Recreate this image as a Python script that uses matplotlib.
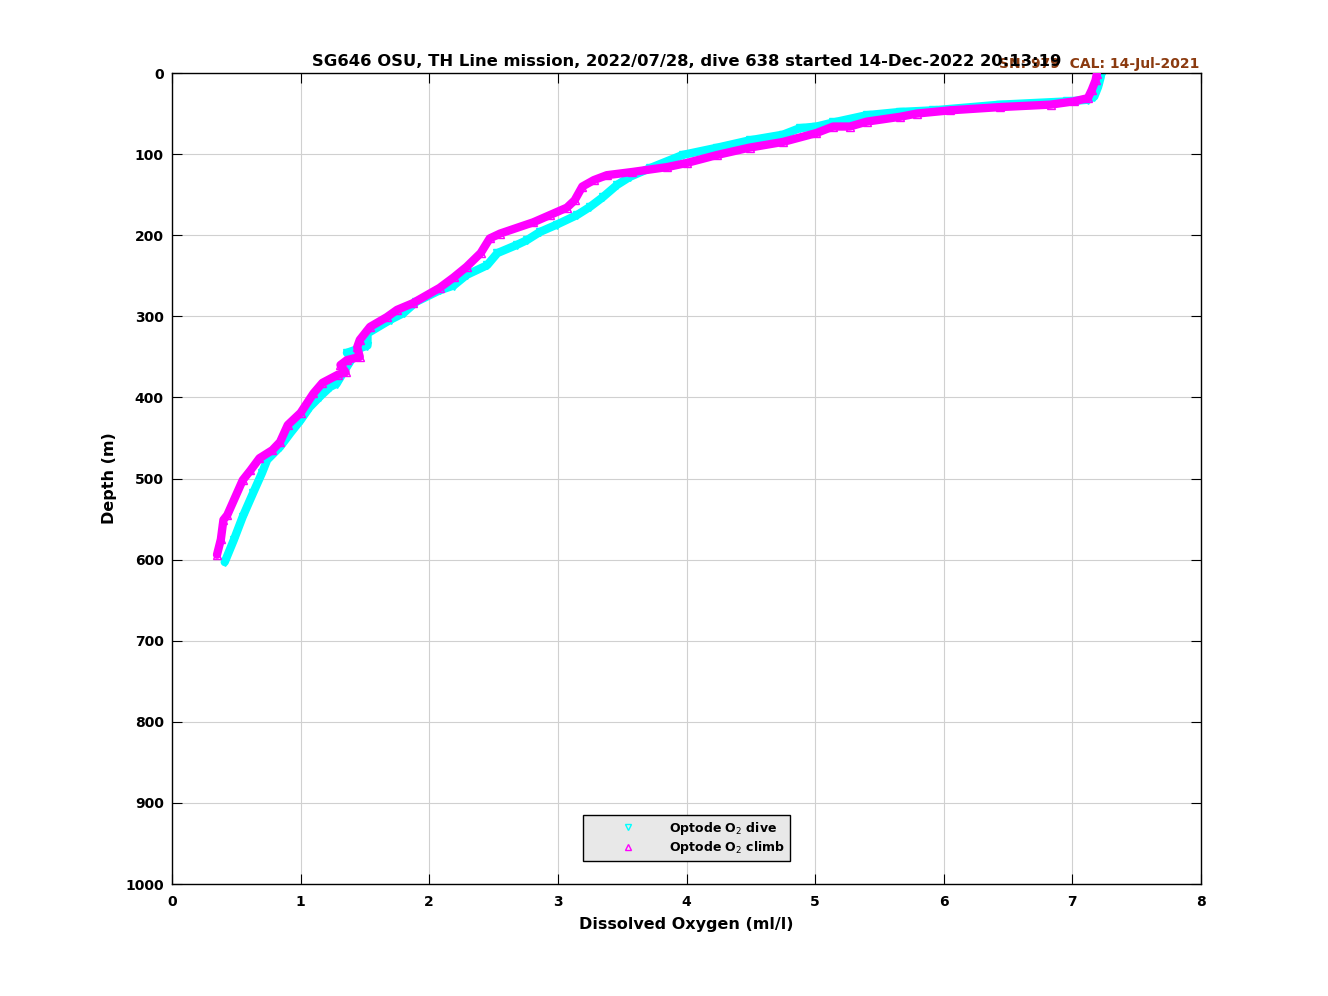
import matplotlib
matplotlib.use('Agg')
import matplotlib.pyplot as plt

# Optode O2, dive (cyan)
dive_o2 = [7.20, 7.22, 7.20, 7.17, 7.12, 6.96, 6.44, 5.92, 5.66, 5.40, 5.14, 5.01, 4.88,
           4.75, 4.49, 4.24, 3.97, 3.72, 3.56, 3.46, 3.35, 3.25, 3.15, 2.99, 2.86, 2.76,
           2.68, 2.53, 2.45, 2.29, 2.19, 2.08, 1.90, 1.80, 1.70, 1.52, 1.52, 1.45, 1.36,
           1.40, 1.31, 1.28, 1.23, 1.15, 1.07, 1.00, 0.92, 0.84, 0.74, 0.70, 0.63, 0.55,
           0.48, 0.41]
dive_depth = [0, 5, 17, 29, 33, 35, 39, 46, 48, 52, 61, 66, 68,
              76, 83, 92, 101, 117, 128, 138, 153, 165, 175, 187, 196, 206,
              212, 222, 237, 249, 262, 268, 282, 296, 304, 321, 336, 340, 345,
              352, 375, 383, 387, 399, 412, 428, 444, 461, 477, 493, 518, 547,
              576, 603]

# Optode O2, climb (magenta)
climb_o2 = [7.19, 7.18, 7.15, 7.12, 7.01, 6.83, 6.44, 6.05, 5.79, 5.66, 5.40, 5.27, 5.14,
            5.01, 4.75, 4.49, 4.24, 4.00, 3.85, 3.58, 3.38, 3.28, 3.19, 3.13, 3.07, 2.94,
            2.81, 2.55, 2.47, 2.40, 2.29, 2.19, 2.08, 1.87, 1.75, 1.67, 1.54, 1.46, 1.44,
            1.46, 1.36, 1.31, 1.35, 1.29, 1.17, 1.10, 1.00, 0.90, 0.84, 0.78, 0.68, 0.61,
            0.55, 0.43, 0.40, 0.38, 0.35]
climb_depth = [1, 9, 21, 31, 35, 39, 42, 46, 50, 54, 60, 66, 66,
               74, 85, 92, 101, 111, 116, 122, 126, 132, 140, 157, 166, 175,
               184, 198, 204, 222, 239, 252, 265, 284, 292, 301, 313, 329, 338,
               350, 354, 360, 369, 372, 382, 395, 419, 434, 455, 465, 475, 490,
               502, 545, 551, 575, 594]

x_ticks = [0, 1, 2, 3, 4, 5, 6, 7, 8]
y_ticks = [0, 100, 200, 300, 400, 500, 600, 700, 800, 900, 1000]

fig = plt.figure(figsize=(13.28, 9.96), dpi=100)
ax = fig.add_axes([0.1295, 0.1124, 0.7749, 0.8143])

ax.plot(dive_o2, dive_depth, color='cyan', lw=6, solid_capstyle='round', zorder=2)
ax.plot(dive_o2, dive_depth, 'v', color='cyan', mfc='none', ms=6, mew=1, zorder=2)
ax.plot(climb_o2, climb_depth, color='magenta', lw=6, solid_capstyle='round', zorder=3)
ax.plot(climb_o2, climb_depth, '^', color='magenta', mfc='none', ms=6, mew=1, zorder=3)

# legend proxies
ax.plot([], [], 'v', color='cyan', mfc='none', ms=5, label='Optode O$_2$ dive')
ax.plot([], [], '^', color='magenta', mfc='none', ms=5, label='Optode O$_2$ climb')

ax.set_xlim(0, 8)
ax.set_ylim(1000, 0)
ax.set_xticks(x_ticks)
ax.set_yticks(y_ticks)
ax.grid(True, color='#d0d0d0', lw=0.8)
ax.set_axisbelow(True)
ax.tick_params(direction='in', length=7, top=True, right=True, labelsize=10)
ax.tick_params(axis='x', pad=8)
ax.tick_params(axis='y', pad=6)
for lbl in ax.get_xticklabels() + ax.get_yticklabels():
    lbl.set_fontweight('bold')
for sp in ax.spines.values():
    sp.set_linewidth(1.0)

ax.set_xlabel('Dissolved Oxygen (ml/l)', fontsize=11.5, fontweight='bold', labelpad=6)
ax.set_ylabel('Depth (m)', fontsize=11.5, fontweight='bold', labelpad=6)
ax.set_title('SG646 OSU, TH Line mission, 2022/07/28, dive 638 started 14-Dec-2022 20:13:19',
             fontsize=11.8, fontweight='bold', pad=5)
ax.text(0.998, 1.002, 'SN: 979  CAL: 14-Jul-2021', transform=ax.transAxes,
        ha='right', va='bottom', fontsize=10, fontweight='bold', color='#8b3a0f')

leg = ax.legend(loc='lower center', bbox_to_anchor=(0.5, 0.028), borderaxespad=0,
                fancybox=False, prop={'weight': 'bold', 'size': 9}, handletextpad=0.1,
                borderpad=0.4, labelspacing=0.2, handlelength=6.4, framealpha=1)
leg.get_frame().set_facecolor('#e8e8e8')
leg.get_frame().set_edgecolor('black')

fig.savefig('out.png', dpi=100)
